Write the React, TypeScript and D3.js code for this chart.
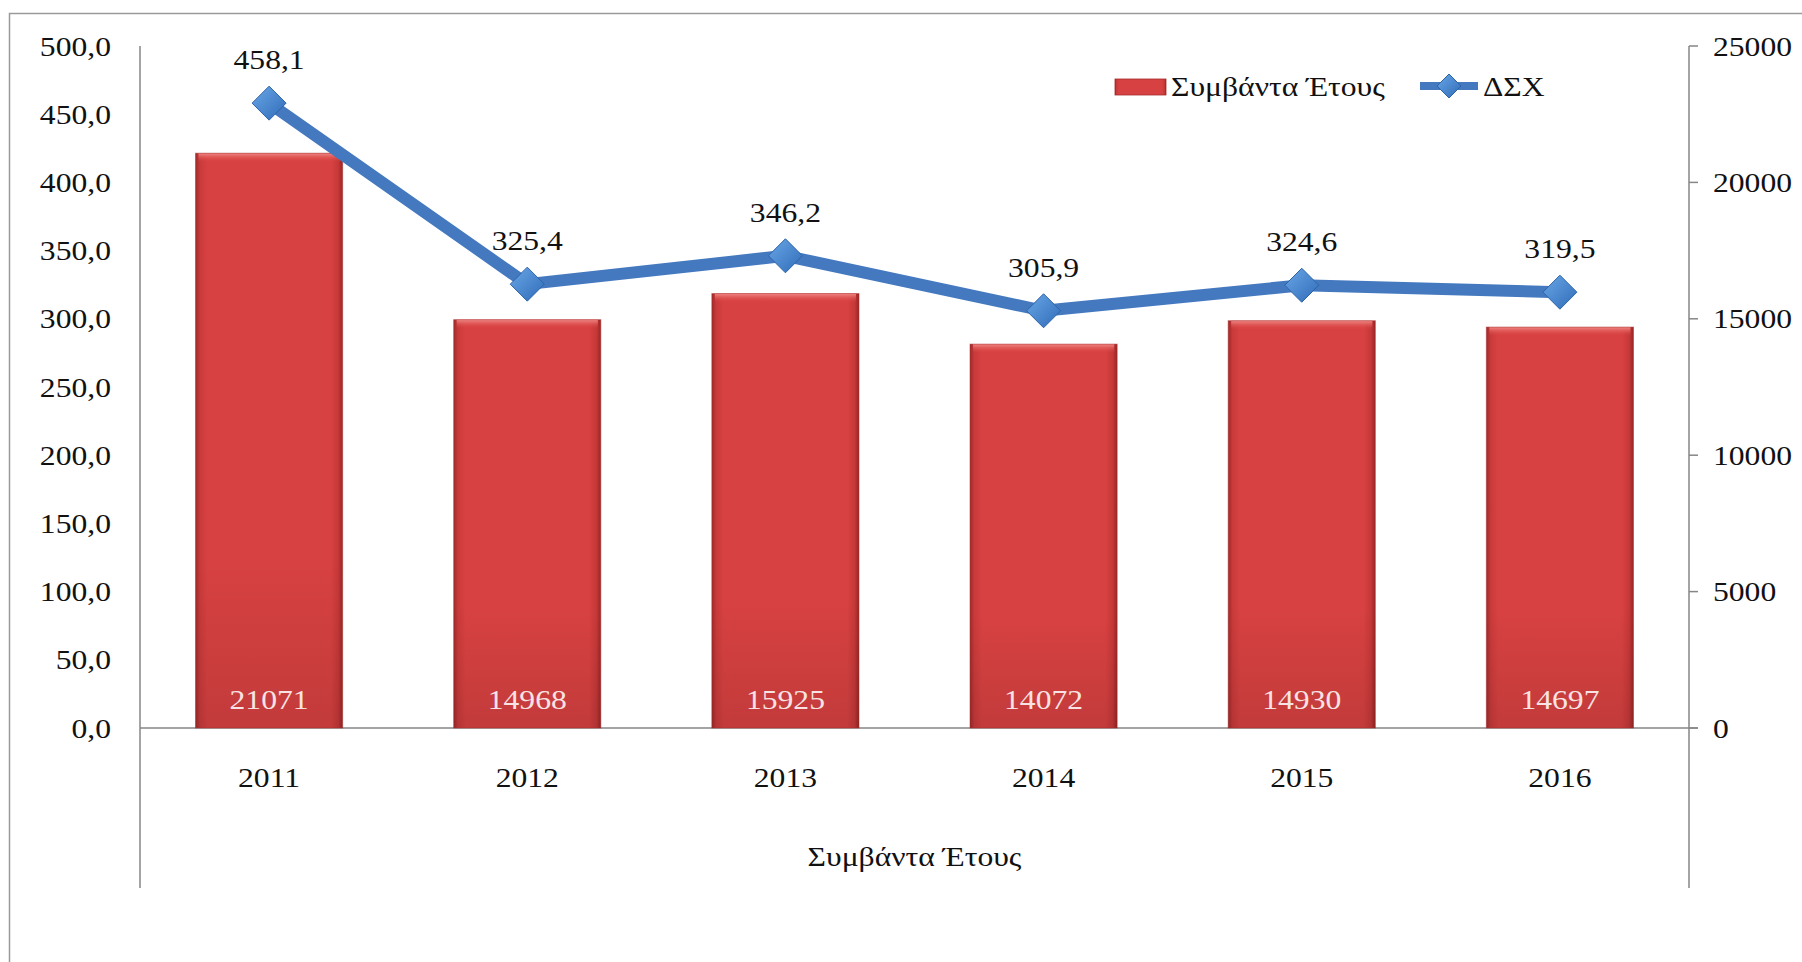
import React from "react";
import * as d3 from "d3";

const years = ["2011", "2012", "2013", "2014", "2015", "2016"];
const events = [21071, 14968, 15925, 14072, 14930, 14697];
const dsx = [458.1, 325.4, 346.2, 305.9, 324.6, 319.5];
const leftTicks = [0, 50, 100, 150, 200, 250, 300, 350, 400, 450, 500];
const rightTicks = [0, 5000, 10000, 15000, 20000, 25000];
const barSeriesName = "Συμβάντα Έτους";
const lineSeriesName = "ΔΣΧ";
const axisTitle = "Συμβάντα Έτους";

const W = 1802;
const H = 962;
const FONT = "'Liberation Serif', 'DejaVu Serif', serif";
const FS = 28;
const SX = 1.13;

function T({ x, y, children, anchor = "middle", fill = "#111" }: any) {
  return (
    <text
      transform={`translate(${x},${y}) scale(${SX},1)`}
      textAnchor={anchor}
      fontFamily={FONT}
      fontSize={FS}
      fill={fill}
    >
      {children}
    </text>
  );
}

export default function App() {
  const left = 140;
  const right = 1689;
  const top = 46;
  const bottom = 728;

  const x = d3.scaleBand<string>().domain(years).range([left, right]).paddingInner(0.43).paddingOuter(0.215);
  const yL = d3.scaleLinear().domain([0, 500]).range([bottom, top]);
  const yR = d3.scaleLinear().domain([0, 25000]).range([bottom, top]);
  const cx = (i: number) => (x(years[i]) as number) + x.bandwidth() / 2;

  const line = d3
    .line<number>()
    .x((_, i) => cx(i))
    .y((d) => yL(d));

  const fmt = (v: number) => v.toFixed(1).replace(".", ",");
  const D = 17;
  const diamond = (px: number, py: number, r: number) =>
    `M${px},${py - r}L${px + r},${py}L${px},${py + r}L${px - r},${py}Z`;

  return (
    <svg width={W} height={H} style={{ position: "absolute", left: 0, top: 0, background: "#fff" }}>
      <defs>
        <linearGradient id="barH" x1="0" x2="1" y1="0" y2="0">
          <stop offset="0" stopColor="#a02a2a" />
          <stop offset="0.03" stopColor="#c93a3a" />
          <stop offset="0.08" stopColor="#d84141" />
          <stop offset="0.92" stopColor="#d84141" />
          <stop offset="0.97" stopColor="#c63838" />
          <stop offset="1" stopColor="#982626" />
        </linearGradient>
        <linearGradient id="barV" x1="0" x2="0" y1="0" y2="1">
          <stop offset="0" stopColor="#000000" stopOpacity="0" />
          <stop offset="0.7" stopColor="#000000" stopOpacity="0.0" />
          <stop offset="1" stopColor="#000000" stopOpacity="0.1" />
        </linearGradient>
        <linearGradient id="bevel" x1="0" x2="0" y1="0" y2="1">
          <stop offset="0" stopColor="#f08a86" />
          <stop offset="1" stopColor="#d84141" stopOpacity="0" />
        </linearGradient>
        <linearGradient id="dia" x1="0" x2="1" y1="0" y2="1">
          <stop offset="0" stopColor="#6aa6e6" />
          <stop offset="1" stopColor="#2f6cb8" />
        </linearGradient>
      </defs>

      {/* outer border */}
      <rect x={9.5} y={13.5} width={2000} height={2000} fill="none" stroke="#9a9a9a" strokeWidth={1.5} />

      {/* axes lines */}
      <line x1={left} x2={left} y1={top} y2={888} stroke="#868686" strokeWidth={1.5} />
      <line x1={right} x2={right} y1={top} y2={888} stroke="#868686" strokeWidth={1.5} />
      <line x1={left} x2={right + 9} y1={bottom} y2={bottom} stroke="#868686" strokeWidth={1.5} />
      {rightTicks.map((t) => (
        <line key={t} x1={right} x2={right + 9} y1={yR(t)} y2={yR(t)} stroke="#868686" strokeWidth={1.5} />
      ))}

      {/* left tick labels */}
      {leftTicks.map((t) => (
        <T key={t} x={111} y={yL(t) + 9.5} anchor="end">
          {fmt(t)}
        </T>
      ))}
      {/* right tick labels */}
      {rightTicks.map((t) => (
        <T key={t} x={1713} y={yR(t) + 9.5} anchor="start">
          {String(t)}
        </T>
      ))}

      {/* bars */}
      {events.map((v, i) => {
        const bx = x(years[i]) as number;
        const by = yR(v);
        const bw = x.bandwidth();
        const bh = bottom - by;
        return (
          <g key={i}>
            <rect x={bx} y={by} width={bw} height={bh} fill="url(#barH)" />
            <rect x={bx} y={by} width={bw} height={bh} fill="url(#barV)" />
            <rect x={bx + 3} y={by} width={bw - 6} height={9} fill="url(#bevel)" />
            <rect x={bx} y={by} width={bw} height={bh} fill="none" stroke="#a52b2b" strokeWidth={1} opacity={0.5} />
            <T x={cx(i)} y={709} fill="#f7e3e3">
              {String(v)}
            </T>
          </g>
        );
      })}

      {/* line */}
      <path d={line(dsx) || ""} fill="none" stroke="#4479c0" strokeWidth={12} strokeLinejoin="round" />
      {dsx.map((v, i) => (
        <path key={i} d={diamond(cx(i), yL(v), D)} fill="url(#dia)" stroke="#2c64a8" strokeWidth={1} />
      ))}
      {dsx.map((v, i) => (
        <T key={i} x={cx(i)} y={yL(v) - 34}>
          {fmt(v)}
        </T>
      ))}

      {/* x labels */}
      {years.map((yv, i) => (
        <T key={yv} x={cx(i)} y={787}>
          {yv}
        </T>
      ))}
      <T x={(left + right) / 2} y={866}>
        {axisTitle}
      </T>

      {/* legend */}
      <rect x={1115} y={79} width={51} height={16} fill="url(#barH)" stroke="#a52b2b" strokeWidth={0.8} />
      <T x={1171} y={96} anchor="start">
        {barSeriesName}
      </T>
      <line x1={1420} x2={1478} y1={86} y2={86} stroke="#4479c0" strokeWidth={8} />
      <path d={diamond(1449, 86, 12)} fill="url(#dia)" stroke="#2c64a8" strokeWidth={1} />
      <T x={1483} y={96} anchor="start">
        {lineSeriesName}
      </T>
    </svg>
  );
}
